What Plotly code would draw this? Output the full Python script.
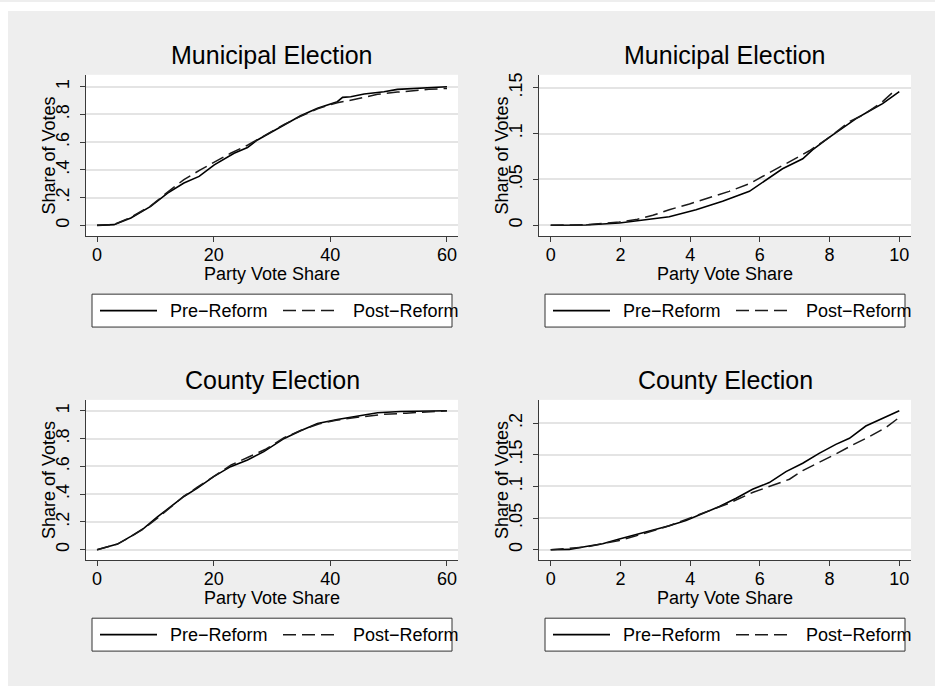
import plotly.graph_objects as go

# ---------------- data: cumulative share of votes by party vote share ----------------
# Municipal elections, full range (0-60)
muni_full_pre_x = [0, 2.9, 5.8, 9.2, 12.1, 14.9, 17.5, 20.1, 23.5, 25.8, 27.5, 29.2, 32.1, 34.9,
                   37.8, 40.1, 41.2, 42.1, 43.5, 45.8, 49.2, 51.5, 54.9, 60]
muni_full_pre_y = [0, 0.005, 0.053, 0.137, 0.233, 0.305, 0.353, 0.436, 0.52, 0.561, 0.616, 0.657,
                   0.724, 0.791, 0.844, 0.873, 0.892, 0.923, 0.928, 0.947, 0.964, 0.981, 0.99, 1.0]
muni_full_post_x = [0, 2.9, 5.8, 9.2, 12.1, 14.9, 17.7, 20.0, 22.9, 25.8, 29.2, 32.1, 34.9, 37.8,
                    40.1, 41.2, 42.9, 44.9, 46.3, 48.1, 51.5, 53.7, 56.9, 60]
muni_full_post_y = [0, 0.006, 0.058, 0.14, 0.24, 0.33, 0.40, 0.452, 0.52, 0.578, 0.66, 0.728,
                    0.787, 0.84, 0.872, 0.885, 0.897, 0.916, 0.933, 0.945, 0.961, 0.971, 0.981, 0.988]

# Municipal elections, small parties (0-10)
muni_small_pre_x = [0, 1.01, 1.97, 2.93, 3.4, 4.17, 4.93, 5.7, 6.27, 6.65, 7.23, 7.51, 7.99,
                    8.37, 8.76, 9.14, 9.52, 10]
muni_small_pre_y = [0, 0.0004, 0.0025, 0.0069, 0.0094, 0.017, 0.0261, 0.037, 0.0514, 0.0616,
                    0.0725, 0.0822, 0.0957, 0.1054, 0.1163, 0.1246, 0.1326, 0.1457]
muni_small_post_x = [0, 1.01, 1.97, 2.45, 2.93, 3.4, 3.98, 4.55, 5.12, 5.7, 6.27, 6.85, 7.42,
                     7.99, 8.57, 9.0, 9.52, 9.89]
muni_small_post_y = [0, 0.0007, 0.0036, 0.0062, 0.0109, 0.017, 0.0232, 0.0297, 0.037, 0.0453,
                     0.0569, 0.0688, 0.0812, 0.0957, 0.113, 0.121, 0.1348, 0.1475]

# County elections, full range (0-60)
county_full_pre_x = [0, 1.2, 3.5, 5.8, 8.06, 10.3, 12.6, 14.9, 17.2, 20.0, 22.9, 25.8, 28.6,
                     32.1, 34.9, 37.8, 41.2, 44.6, 48.1, 52.0, 60]
county_full_pre_y = [0, 0.012, 0.04, 0.096, 0.155, 0.234, 0.311, 0.383, 0.443, 0.526, 0.598,
                     0.646, 0.706, 0.801, 0.856, 0.909, 0.938, 0.962, 0.986, 0.995, 1.0]
county_full_post_x = [0, 1.2, 3.5, 5.8, 8.0, 10.3, 12.6, 14.9, 17.2, 20.0, 23.0, 26.0, 29.0,
                      32.0, 35.0, 38.0, 41.0, 45.0, 49.0, 53.0, 60]
county_full_post_y = [0, 0.012, 0.04, 0.093, 0.15, 0.225, 0.305, 0.385, 0.45, 0.53, 0.61, 0.667,
                      0.725, 0.805, 0.86, 0.905, 0.932, 0.955, 0.974, 0.983, 1.0]

# County elections, small parties (0-10)
county_small_pre_x = [0, 0.535, 1.01, 1.49, 1.97, 2.45, 2.93, 3.4, 3.88, 4.36, 4.84, 5.32, 5.79,
                      6.27, 6.75, 7.23, 7.7, 8.18, 8.57, 9.04, 9.52, 10]
county_small_pre_y = [0, 0.0005, 0.0052, 0.0094, 0.0168, 0.0236, 0.0304, 0.0378, 0.0462, 0.0577,
                      0.0682, 0.0814, 0.0955, 0.106, 0.1234, 0.1365, 0.1522, 0.1664, 0.1759,
                      0.1953, 0.2073, 0.2194]
county_small_post_x = [0, 1.01, 1.97, 2.45, 3.4, 4.36, 5.12, 5.79, 6.27, 6.85, 7.23, 7.7, 8.18,
                       8.66, 9.14, 9.62, 10]
county_small_post_y = [0, 0.0042, 0.0147, 0.022, 0.0378, 0.0577, 0.0735, 0.0903, 0.0997, 0.1113,
                       0.125, 0.1375, 0.1512, 0.1654, 0.1785, 0.1932, 0.2089]

panel_titles = ["Municipal Election", "Municipal Election", "County Election", "County Election"]
x_title = "Party Vote Share"
y_title = "Share of Votes"
series_names = ["Pre\u2212Reform", "Post\u2212Reform"]

full_x_ticks = [0, 20, 40, 60]
small_x_ticks = [0, 2, 4, 6, 8, 10]
full_y_ticks = [0, 0.2, 0.4, 0.6, 0.8, 1]
full_y_labels = ["0", ".2", ".4", ".6", ".8", "1"]
muni_small_y_ticks = [0, 0.05, 0.1, 0.15]
muni_small_y_labels = ["0", ".05", ".1", ".15"]
county_small_y_ticks = [0, 0.05, 0.1, 0.15, 0.2]
county_small_y_labels = ["0", ".05", ".1", ".15", ".2"]

# ---------------- layout geometry (pixels) ----------------
W, H = 935, 686
FONT = "Liberation Sans, Arial, sans-serif"
TXT = 18      # tick labels, axis titles, legend text
TITLE = 25    # panel titles


def fx(px):
    return px / W


def fy(py):
    return 1 - py / H


# plot regions: (left, right, top, bottom) in pixels
regions = [(86, 458, 73, 235), (539, 911, 73, 235), (86, 458, 399, 560), (539, 911, 399, 560)]
x_ranges = [[-1.89, 61.89], [-0.336, 10.336], [-1.89, 61.89], [-0.336, 10.336]]
y_ranges = [[-0.079, 1.086], [-0.012, 0.164], [-0.077, 1.079], [-0.0168, 0.2367]]
x_ticks = [full_x_ticks, small_x_ticks, full_x_ticks, small_x_ticks]
y_ticks = [(full_y_ticks, full_y_labels), (muni_small_y_ticks, muni_small_y_labels),
           (full_y_ticks, full_y_labels), (county_small_y_ticks, county_small_y_labels)]
series = [
    (muni_full_pre_x, muni_full_pre_y, muni_full_post_x, muni_full_post_y),
    (muni_small_pre_x, muni_small_pre_y, muni_small_post_x, muni_small_post_y),
    (county_full_pre_x, county_full_pre_y, county_full_post_x, county_full_post_y),
    (county_small_pre_x, county_small_pre_y, county_small_post_x, county_small_post_y),
]

AXIS_COLOR = "#3a3a3a"
GRID_COLOR = "#e4e4e4"
DASH = "13px,6px"

fig = go.Figure()
layout = dict(
    width=W, height=H,
    margin=dict(l=0, r=0, t=0, b=0),
    paper_bgcolor="#eeeeee",
    plot_bgcolor="white",
    showlegend=False,
    font=dict(family=FONT, size=TXT, color="black"),
)
annotations = []
shapes = [
    # white border strips along the top and left edges of the page
    dict(type="rect", xref="paper", yref="paper", x0=0, x1=fx(8), y0=0, y1=1,
         fillcolor="white", line=dict(width=0), layer="below"),
    dict(type="rect", xref="paper", yref="paper", x0=0, x1=1, y0=fy(9), y1=1,
         fillcolor="white", line=dict(width=0), layer="below"),
]

for i, ((l, r, t, b), (px_, py_, qx_, qy_)) in enumerate(zip(regions, series)):
    n = "" if i == 0 else str(i + 1)
    xa, ya = "x" + n, "y" + n

    fig.add_trace(go.Scatter(x=px_, y=py_, xaxis=xa, yaxis=ya, mode="lines",
                             name=series_names[0],
                             line=dict(color="black", width=1.6)))
    fig.add_trace(go.Scatter(x=qx_, y=qy_, xaxis=xa, yaxis=ya, mode="lines",
                             name=series_names[1],
                             line=dict(color="#1a1a1a", width=1.5, dash=DASH)))

    layout["xaxis" + n] = dict(
        domain=[fx(l), fx(r)], anchor=ya, range=x_ranges[i],
        showgrid=False, zeroline=False, showline=True, linecolor=AXIS_COLOR, linewidth=1,
        ticks="outside", ticklen=5, tickcolor=AXIS_COLOR, tickwidth=1,
        tickvals=x_ticks[i], ticktext=[str(v) for v in x_ticks[i]], ticklabelstandoff=-3,
        tickfont=dict(size=TXT, color="black"), fixedrange=True,
    )
    tv, tt = y_ticks[i]
    layout["yaxis" + n] = dict(
        domain=[fy(b), fy(t)], anchor=xa, range=y_ranges[i],
        showgrid=True, gridcolor=GRID_COLOR, gridwidth=1.5, zeroline=False,
        showline=True, linecolor=AXIS_COLOR, linewidth=1,
        ticks="outside", ticklen=5, tickcolor=AXIS_COLOR, tickwidth=1,
        tickvals=tv, ticktext=tt, tickangle=-90, ticklabelstandoff=4,
        tickfont=dict(size=TXT, color="black"), fixedrange=True,
    )

    cx = (l + r) / 2
    # panel title
    annotations.append(dict(text=panel_titles[i], xref="paper", yref="paper",
                            x=fx(cx), y=fy(t - 20), xanchor="center", yanchor="middle",
                            showarrow=False, font=dict(size=TITLE, color="black")))
    # x axis title
    annotations.append(dict(text=x_title, xref="paper", yref="paper",
                            x=fx(cx), y=fy(b + 38), xanchor="center", yanchor="middle",
                            showarrow=False, font=dict(size=TXT, color="black")))
    # y axis title
    annotations.append(dict(text=y_title, xref="paper", yref="paper",
                            x=fx(l - 37), y=fy((t + b) / 2), xanchor="center", yanchor="middle",
                            textangle=-90, showarrow=False, font=dict(size=TXT, color="black")))

    # legend box beneath each panel
    bx0 = l + 6
    bx1 = bx0 + 360
    by0 = b + 58
    by1 = by0 + 33
    my = (by0 + by1) / 2
    shapes.append(dict(type="rect", xref="paper", yref="paper",
                       x0=fx(bx0), x1=fx(bx1), y0=fy(by1), y1=fy(by0),
                       fillcolor="white", line=dict(color="#333333", width=1)))
    shapes.append(dict(type="line", xref="paper", yref="paper",
                       x0=fx(bx0 + 8), x1=fx(bx0 + 65), y0=fy(my), y1=fy(my),
                       line=dict(color="black", width=1.6)))
    shapes.append(dict(type="line", xref="paper", yref="paper",
                       x0=fx(bx0 + 191), x1=fx(bx0 + 243), y0=fy(my), y1=fy(my),
                       line=dict(color="#1a1a1a", width=1.5, dash=DASH)))
    annotations.append(dict(text=series_names[0], xref="paper", yref="paper",
                            x=fx(bx0 + 76), y=fy(my), xanchor="left", yanchor="middle",
                            showarrow=False, font=dict(size=TXT, color="black")))
    annotations.append(dict(text=series_names[1], xref="paper", yref="paper",
                            x=fx(bx0 + 259), y=fy(my), xanchor="left", yanchor="middle",
                            showarrow=False, font=dict(size=TXT, color="black")))

layout["annotations"] = annotations
layout["shapes"] = shapes
fig.update_layout(**layout)

fig.write_html("out.html")
